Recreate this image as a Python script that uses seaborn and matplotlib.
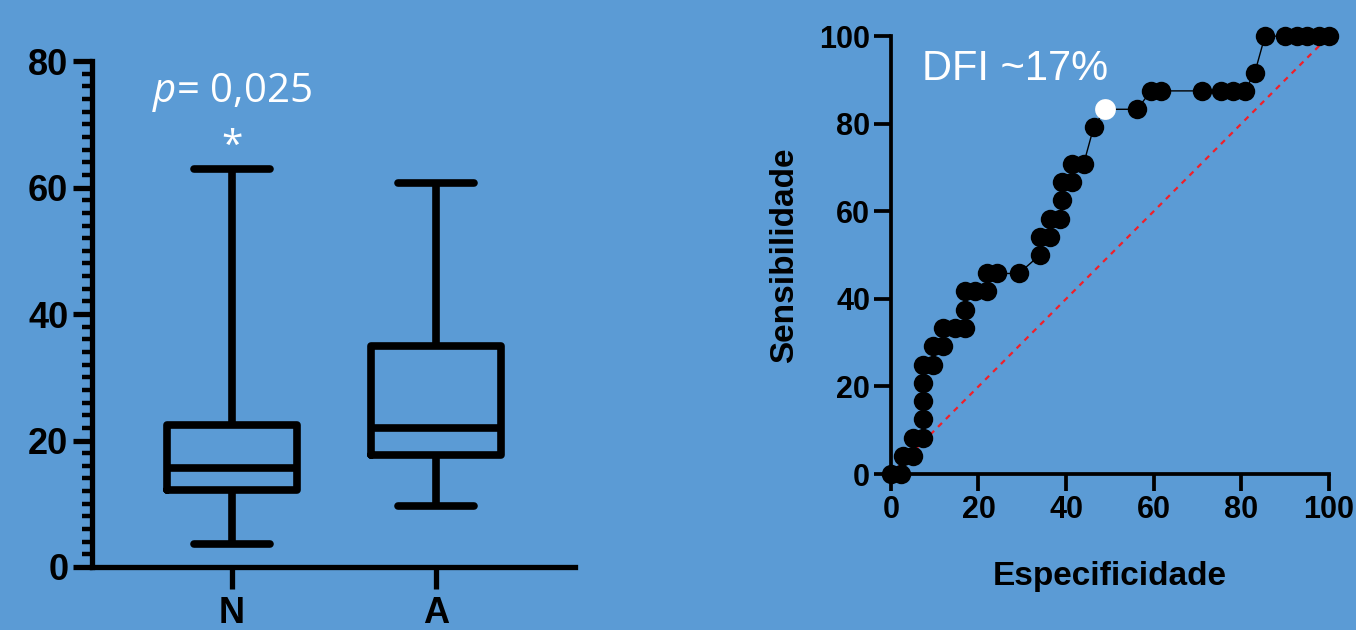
import pandas as pd
import seaborn as sns
import matplotlib.pyplot as plt
from matplotlib.ticker import MultipleLocator

# resumo dos grupos (min, Q1, mediana, Q3, max)
grupos = ['N', 'A']
n_valores = [3.6, 12.2, 15.6, 22.4, 62.9]
a_valores = [9.6, 17.7, 22.0, 34.9, 60.8]

# curva ROC
especificidade = [0, 2.3, 2.7, 5.0, 5.0, 7.3, 7.3, 7.3, 7.3, 7.3, 9.6, 9.6, 11.9, 11.9,
                  14.6, 16.9, 16.9, 16.9, 19.2, 21.9, 21.9, 24.2, 29.2, 34.0, 34.0, 36.3,
                  36.3, 38.6, 39.0, 39.0, 41.3, 41.3, 44.0, 46.3, 48.9, 56.2, 59.4, 61.6,
                  71.0, 75.3, 78.0, 80.8, 83.1, 85.4, 90.0, 92.7, 95.0, 97.7, 100]
sensibilidade = [0, 0, 4.2, 4.2, 8.3, 8.3, 12.5, 16.7, 20.8, 25.0, 25.0, 29.2, 29.2, 33.3,
                 33.3, 33.3, 37.5, 41.7, 41.7, 41.7, 45.8, 45.8, 45.8, 50.0, 54.2, 54.2,
                 58.3, 58.3, 62.5, 66.7, 66.7, 70.8, 70.8, 79.2, 83.3, 83.3, 87.5, 87.5,
                 87.5, 87.5, 87.5, 87.5, 91.7, 100, 100, 100, 100, 100, 100]
corte_x = [48.9]
corte_y = [83.3]

fundo = '#5B9BD5'
sns.set_theme(style='ticks')
plt.rcParams['font.family'] = ['Liberation Sans', 'DejaVu Sans']
plt.rcParams['font.weight'] = 'bold'
plt.rcParams['mathtext.fontset'] = 'custom'
plt.rcParams['mathtext.rm'] = 'Open Sans:normal'
plt.rcParams['mathtext.it'] = 'Open Sans:italic:normal'
for k in ['text.color', 'axes.labelcolor', 'xtick.color', 'ytick.color', 'axes.edgecolor']:
    plt.rcParams[k] = 'black'

fig = plt.figure(figsize=(13.56, 6.3), dpi=100, facecolor=fundo)
ax1 = fig.add_axes([0.0678, 0.1, 0.3562, 0.803])
ax2 = fig.add_axes([0.657, 0.2476, 0.323, 0.695])
for ax in (ax1, ax2):
    ax.set_facecolor(fundo)

# --- boxplot ---
df = pd.DataFrame({'grupo': ['N'] * 5 + ['A'] * 5, 'valor': n_valores + a_valores})
sns.boxplot(data=df, x='grupo', y='valor', order=grupos, whis=(0, 100), width=0.64,
            fill=False, color='black', linecolor='black', linewidth=5.5,
            capwidths=0.37, ax=ax1)
ax1.set_xlim(-0.686, 1.68)
ax1.set_ylim(0, 80)
ax1.set_yticks([0, 20, 40, 60, 80])
ax1.yaxis.set_minor_locator(MultipleLocator(2))
ax1.set_xlabel('')
ax1.set_ylabel('')
sns.despine(ax=ax1)
for s in ['left', 'bottom']:
    ax1.spines[s].set_linewidth(3.8)
ax1.tick_params(axis='y', which='major', length=14, width=3.8, labelsize=26, pad=3)
ax1.tick_params(axis='y', which='minor', length=7, width=3.2)
ax1.tick_params(axis='x', length=16, width=3.8, labelsize=26, pad=5)
ax1.text(0, 75, r'$p$= 0,025', color='white', fontsize=29, ha='center', va='center',
         family='Open Sans', fontweight='normal')
ax1.text(0, 66.5, '*', color='white', fontsize=28, ha='center', va='center',
         family='Open Sans', fontweight='normal')

# --- ROC ---
ax2.plot([0, 100], [0, 100], color='#F0202A', linestyle=(0, (2.5, 2.5)), linewidth=1.6,
         zorder=1)
sns.lineplot(x=especificidade, y=sensibilidade, sort=False, estimator=None, errorbar=None,
             color='black', linewidth=1, marker='o', markersize=14, markeredgewidth=0,
             ax=ax2, zorder=3, clip_on=False)
sns.scatterplot(x=corte_x, y=corte_y, color='white', s=225, linewidth=0, ax=ax2, zorder=4,
                clip_on=False)
ax2.set_xlim(0, 100)
ax2.set_ylim(0, 100)
ax2.set_xticks(range(0, 101, 20))
ax2.set_yticks(range(0, 101, 20))
sns.despine(ax=ax2)
for s in ['left', 'bottom']:
    ax2.spines[s].set_linewidth(2.7)
ax2.tick_params(length=12, width=2.7, labelsize=22, pad=3)
ax2.set_xlabel('Especificidade', fontsize=24, fontweight='bold', labelpad=26)
ax2.set_ylabel('Sensibilidade', fontsize=24, fontweight='bold', labelpad=14)
ax2.text(7.0, 92.5, 'DFI ~17%', color='white', fontsize=30, ha='left', va='center',
         fontweight='normal')

fig.savefig('out.png', dpi=100, facecolor=fundo)
